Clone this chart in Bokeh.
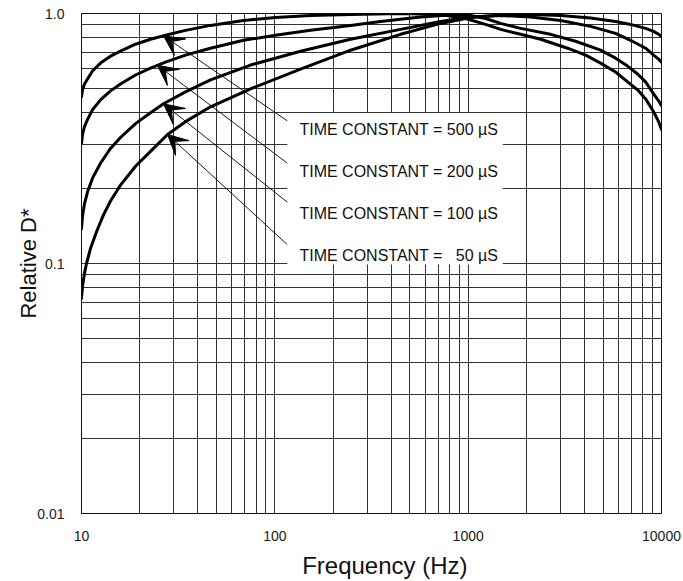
import numpy as np
from bokeh.plotting import figure
from bokeh.models import (FixedTicker, CustomJSTickFormatter, Label, Arrow,
                          VeeHead, Range1d)
from bokeh.embed import file_html
from bokeh.resources import INLINE

# ---- data: relative detectivity vs chopping frequency ----
time_constants = ["500", "200", "100", "50"]

freq_500 = [10, 10.12, 10.36, 10.74, 11.40, 12.54, 14.13, 15.91, 19.03, 22.75,
            27.20, 34.51, 46.49, 68.87, 100.8, 153.0, 246.4, 446.9, 719.9,
            969.4, 1230, 1471, 1867, 2370, 3268, 4050, 4841, 5787, 6676,
            7520, 8276, 9102, 9661, 10000]
d_500 = [0.4640, 0.4949, 0.5227, 0.5472, 0.5886, 0.6333, 0.6751, 0.7067,
         0.7535, 0.7887, 0.8180, 0.8562, 0.8962, 0.9381, 0.9641, 0.9819,
         0.9909, 1.0, 0.9909, 0.9554, 0.9044, 0.8641, 0.8255, 0.7887,
         0.7264, 0.6813, 0.6333, 0.5833, 0.5324, 0.4949, 0.4555, 0.4044,
         0.3693, 0.3434]

freq_200 = [10, 10.12, 10.36, 10.74, 11.40, 12.54, 14.13, 15.91, 19.03, 22.75,
            27.20, 34.51, 46.49, 68.87, 100.8, 153.0, 246.4, 352.3, 567.2,
            810.6, 1029, 1230, 1471, 1867, 2669, 3594, 4841, 5787, 6676,
            7520, 8276, 9102, 9661, 10000]
d_200 = [0.3020, 0.3281, 0.3529, 0.3762, 0.4122, 0.4514, 0.4904, 0.5227,
         0.5675, 0.6050, 0.6390, 0.6813, 0.7264, 0.7815, 0.8180, 0.8562,
         0.8962, 0.9295, 0.9685, 0.9864, 0.9819, 0.9554, 0.9127, 0.8720,
         0.8255, 0.7744, 0.7132, 0.6629, 0.6162, 0.5727, 0.5324, 0.4771,
         0.4474, 0.4276]

freq_100 = [10, 10.12, 10.36, 10.74, 11.40, 12.54, 14.13, 15.91, 19.03, 22.75,
            26.56, 34.51, 46.49, 74.86, 135.8, 246.4, 446.9, 719.9, 1029,
            1471, 2102, 3006, 4297, 5787, 6918, 8276, 9102, 9661, 10000]
d_100 = [0.1377, 0.1550, 0.1730, 0.1931, 0.2195, 0.2517, 0.2885, 0.3191,
         0.3627, 0.4010, 0.4353, 0.4859, 0.5422, 0.6219, 0.7064, 0.7887,
         0.8641, 0.9295, 0.9685, 0.9819, 0.9685, 0.9381, 0.8880, 0.8331,
         0.7815, 0.7264, 0.6813, 0.6568, 0.6390]

freq_50 = [10, 10.12, 10.36, 10.61, 11.13, 11.96, 12.99, 14.13, 15.91, 19.03,
           22.75, 27.86, 34.51, 46.49, 74.86, 135.8, 246.4, 446.9, 719.9,
           1029, 1471, 2102, 3006, 4297, 5787, 6918, 8276, 9102, 9661, 10000]
d_50 = [0.0726, 0.0811, 0.0913, 0.1000, 0.1147, 0.1340, 0.1564, 0.1778,
        0.2058, 0.2449, 0.2809, 0.3281, 0.3693, 0.4236, 0.4994, 0.5995,
        0.7132, 0.8255, 0.9127, 0.9641, 0.9864, 0.9909, 0.9819, 0.9597,
        0.9295, 0.9044, 0.8720, 0.8484, 0.8255, 0.8106]

curves = [(freq_500, d_500), (freq_200, d_200), (freq_100, d_100), (freq_50, d_50)]

x_tick_vals = [10, 100, 1000, 10000]
x_tick_labels = ["10", "100", "1000", "10000"]
y_tick_vals = [0.01, 0.1, 1.0]
y_tick_labels = ["0.01", "0.1", "1.0"]

# ---- annotation placement ----
label_freq = 134
label_d = [0.345, 0.233, 0.159, 0.1075]
leader_start_freq = 116
leader_start_d = [0.372, 0.252, 0.176, 0.119]
arrow_tip_freq = [26.56, 24.7, 26.56, 27.86]

FONT = "Liberation Sans"

p = figure(width=683, height=581, x_axis_type="log", y_axis_type="log",
           x_range=Range1d(10, 10000), y_range=Range1d(0.01, 1.0),
           output_backend="svg", toolbar_location=None,
           min_border_left=81, min_border_right=22,
           min_border_top=13, min_border_bottom=65,
           background_fill_color="white", border_fill_color="white")

# log graph-paper grid: lines at 1..9 of every decade
x_minor = [m * 10 ** e for e in range(1, 4) for m in range(2, 10)]
y_minor = [m * 10.0 ** e for e in (-2, -1) for m in range(2, 10)]
xt = FixedTicker(ticks=x_tick_vals, minor_ticks=x_minor)
yt = FixedTicker(ticks=y_tick_vals, minor_ticks=y_minor)
p.xaxis.ticker = xt
p.yaxis.ticker = yt
p.xgrid.ticker = xt
p.ygrid.ticker = yt

fmt_code = """
for (let i = 0; i < vals.length; i++) {
    if (Math.abs(Math.log10(tick) - Math.log10(vals[i])) < 1e-6) return labs[i];
}
return '';
"""
p.xaxis.formatter = CustomJSTickFormatter(args=dict(vals=x_tick_vals, labs=x_tick_labels), code=fmt_code)
p.yaxis.formatter = CustomJSTickFormatter(args=dict(vals=y_tick_vals, labs=y_tick_labels), code=fmt_code)

for g in (p.xgrid, p.ygrid):
    g.grid_line_color = "#333333"
    g.grid_line_width = 1
    g.minor_grid_line_color = "#333333"
    g.minor_grid_line_width = 1

p.outline_line_color = "#111111"
p.axis.axis_line_color = "#111111"
p.axis.major_tick_line_color = None
p.axis.minor_tick_line_color = None
p.axis.major_label_text_font = FONT
p.axis.major_label_text_font_size = "14px"
p.axis.major_label_text_color = "#1a1a1a"
p.axis.major_label_standoff = 11
p.axis.axis_label_text_font = FONT
p.axis.axis_label_text_font_style = "normal"
p.axis.axis_label_text_color = "#111111"

p.yaxis.axis_label = "Relative D*"
p.yaxis.axis_label_text_font_size = "22px"
p.yaxis.axis_label_standoff = -7

# leading figure spaces nudge the centred title a little to the right
p.xaxis.axis_label = "\u2007\u2007Frequency (Hz)"
p.xaxis.axis_label_text_font_size = "24px"
p.xaxis.axis_label_standoff = 8

# blank panel behind the legend texts
p.quad(left=[leader_start_freq], right=[1510], top=[0.40], bottom=[0.099],
       fill_color="white", line_color=None)

for f, d in curves:
    p.line(f, d, line_width=3, line_color="black", line_join="round", line_cap="round")

for i, tc in enumerate(time_constants):
    f, d = curves[i]
    tip_d = 10 ** np.interp(np.log10(arrow_tip_freq[i]), np.log10(f), np.log10(d))
    p.add_layout(Arrow(end=VeeHead(size=20, fill_color="black", line_color="black",
                                   line_width=1),
                       x_start=leader_start_freq, y_start=leader_start_d[i],
                       x_end=arrow_tip_freq[i], y_end=float(tip_d),
                       line_width=0.9, line_color="black"))
    pad = "\u2007" if len(tc) < 3 else ""
    p.add_layout(Label(x=label_freq, y=label_d[i],
                       text=f"TIME CONSTANT = {pad}{tc} \u00b5S",
                       text_font=FONT, text_font_size="16px",
                       text_baseline="middle", text_align="left",
                       text_color="#111111"))

open("out.html", "w").write(file_html(p, INLINE))
